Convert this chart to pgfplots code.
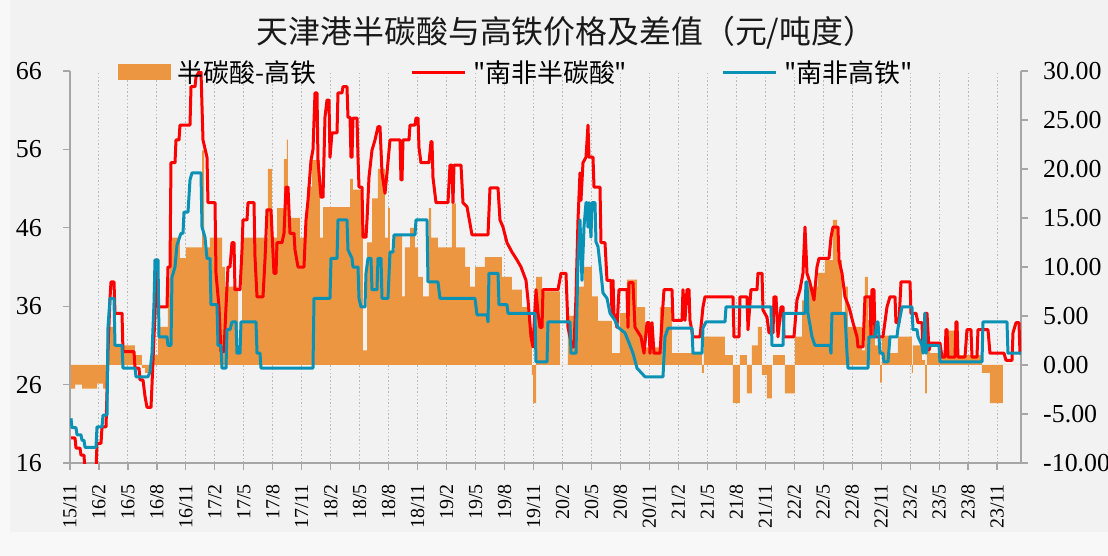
\documentclass[border=0pt]{standalone}
\usepackage{pgfplots}
\pgfplotsset{compat=1.18}
\usepackage{fontspec}
\setmainfont{Liberation Serif}
\newfontfamily\cjk{Noto Sans CJK SC}
\definecolor{barorange}{RGB}{236,150,66}
\definecolor{lred}{RGB}{255,0,0}
\definecolor{lblue}{RGB}{10,146,182}
\definecolor{panelbg}{RGB}{242,242,242}
\definecolor{outerbg}{RGB}{248,248,248}
\definecolor{axgray}{RGB}{166,166,166}
\definecolor{gridgray}{RGB}{185,185,185}
\begin{document}
\begin{tikzpicture}
\fill[outerbg] (0,0) rectangle (1108bp,556bp);
\fill[panelbg] (10bp,24bp) rectangle (1108bp,556bp);
\useasboundingbox (0,0) rectangle (1108bp,556bp);
\node[font=\cjk\fontsize{32}{38}\selectfont, text=black!90] at (566bp,523bp) {天津港半碳酸与高铁价格及差值（元/吨度）};
% ---------- difference (bars), right axis ----------
\begin{axis}[
  at={(70bp,93bp)}, anchor=south west,
  width=951bp, height=392bp, scale only axis,
  xmin=0, xmax=98.48, ymin=-10, ymax=30,
  x filter/.expression={(x-70)/9.657},
  axis x line*=bottom, axis y line*=right,
  xtick={0,3,...,96}, xticklabels={},
  xmajorgrids,
  grid style={gridgray, line width=1bp, dash pattern=on 1.5bp off 2.2bp},
  ytick={-10,-5,...,30},
  yticklabels={-10.00,-5.00,0.00,5.00,10.00,15.00,20.00,25.00,30.00},
  yticklabel style={font=\fontsize{26}{30}\selectfont, anchor=west, inner sep=0pt},
  yticklabel shift=15bp,
  tick align=outside, major tick length=7bp,
  tick style={axgray, line width=1.2bp},
  axis line style={axgray, line width=1.5bp},
]
\addplot[const plot, fill=barorange, draw=none] table {
px v
70 -2.4
75 -2.0
82 -2.4
97 -1.9
103 -2.4
107 3.9
116 2.0
135 1.0
142 -0.3
145 -0.8
153 1.0
158 3.9
168 8.9
170 13
180 10.9
186 12
202 21.9
204 12
210 13
222 10
225 8
238 2
242 13
268 20
272 13
277 16
284 21
287 23
288 15
300 13
307 18.2
312 20.9
320 13
323 16.1
350 19
353 17.9
363 1.5
367 12.5
372 17
378 20
385 13
388 16
390 11.7
395 13.3
402 7
405 12
410 14
415 12
418 9
423 7
429 16
431 13
438 12
452 16.5
456 12
465 10
470 8
475 10
485 11
502 9
512 7.7
522 5.9
529 3.9
532 -1
533 -3.9
536 9
542 7.5
560 0
568 5
578 8
584 10
592 7
598 4.5
612 1.2
620 5.3
627 8.7
637 5.9
645 1.8
660 5.9
672 1.2
702 -0.8
704 2.9
725 1.0
733 -3.9
740 1.0
747 -2.9
752 2.0
758 3.9
762 -1.0
767 -3.4
772 0
773 1.0
785 -2.9
795 2.9
802 6.6
805 8
818 9.4
825 10.7
833 14.8
837 10.7
842 5.4
845 8
848 3.9
862 1.5
865 9
868 4.6
875 2
880 -1.8
882 3
890 1.2
898 2.9
912 -0.8
913 2.0
922 0.5
925 -2.9
927 1.4
930 1.2
945 3.5
955 1.0
982 -0.8
990 -3.9
1003 0
1021 0
} \closedcycle;
\end{axis}
% ---------- prices, left axis ----------
\begin{axis}[
  at={(70bp,93bp)}, anchor=south west,
  width=951bp, height=392bp, scale only axis,
  xmin=0, xmax=98.48, ymin=16, ymax=66,
  x filter/.expression={(x-70)/9.657},
  axis x line*=bottom, axis y line*=left,
  xtick={0,3,...,96},
  xticklabels={15/11,16/2,16/5,16/8,16/11,17/2,17/5,17/8,17/11,18/2,18/5,18/8,18/11,19/2,19/5,19/8,19/11,20/2,20/5,20/8,20/11,21/2,21/5,21/8,21/11,22/2,22/5,22/8,22/11,23/2,23/5,23/8,23/11},
  xticklabel style={font=\fontsize{20}{24}\selectfont, rotate=90, anchor=east, inner sep=0pt},
  xticklabel shift=14bp,
  ytick={16,26,...,66},
  yticklabels={16,26,36,46,56,66},
  yticklabel style={font=\fontsize{26}{30}\selectfont, anchor=east, inner sep=0pt},
  yticklabel shift=21bp,
  tick align=outside, major tick length=7bp,
  tick style={axgray, line width=1.2bp},
  axis line style={axgray, line width=1.5bp},
  legend columns=3,
  legend style={at={(0.0505,0.9974)}, anchor=west, draw=none, fill=none,
    font=\cjk\fontsize{26}{30}\selectfont, inner sep=0pt,
    nodes={inner sep=0pt},
    /tikz/every odd column/.append style={column sep=7bp},
    /tikz/every even column/.append style={column sep=94bp}},
]
\addlegendimage{legend image code/.code={\fill[barorange] (0bp,-7.5bp) rectangle (52bp,7.5bp);}}
\addlegendentry{半碳酸-高铁}
\addplot[lred, line width=3bp, line join=round,
  legend image code/.code={\draw[lred, line width=3bp] (0bp,0bp) -- (53bp,0bp);}] table {
px v
71 19.2
75 19.2
76 17.9
80 17.9
81 17.0
84 17.0
85 15.0
96 15.0
97 18.5
101 18.5
102 20.6
106 20.6
107 25
108 30.4
110 37
111 39.1
114 39.1
115 35.1
122 35.1
123 30.2
134 30.2
135 28.1
139 28.1
140 26.6
143 26.6
145 24.5
147 23.1
151 23.1
152 26
153 29.1
155 35
157 41.9
158 35.9
167 35.9
168 41
170 41
171 54.3
175 54.3
176 57.2
179 57.2
180 59.1
190 59.1
191 64
195 64
196 65.2
199 65.9
201 65.9
203 57.2
207 55
208 49.2
215 49.2
216 40.2
219 35.9
221 30.2
224 30.2
226 35.9
228 41
230 41
232 44.1
234 44.1
235 38.1
240 38.1
242 43.2
243 47
247 47
248 49.2
254 49.2
255 42.3
257 37.2
263 37.2
265 41.9
267 48.3
271 48.3
273 42.8
274 40.2
276 40.2
277 44.1
282 44.1
284 45.3
286 51.2
288 51.2
290 45.3
294 45.3
295 43.2
298 41
304 41
306 47
308 49.5
311 54.6
313 56
315 63.2
317 63.2
318 54.6
321 49.9
323 49.9
325 60.1
327 62.3
329 62.3
330 55
332 58.1
337 58.1
338 63.2
342 63.2
343 64
347 64
348 60.1
350 60.1
351 55
352 55
353 60
357 60
358 55
359 51.2
362 51.2
363 44.8
366 44.8
367 47
369 52.5
372 55.9
375 57.2
378 58.9
380 58.9
382 53
385 50.4
387 53
390 57.2
400 57.2
401 52.1
402 52.1
403 57.2
409 57.2
410 59.1
415 59.1
416 60
418 60
419 56.2
421 54.3
429 54.3
431 57
432 57
433 52.4
436 49.2
448 49.2
450 54
452 54
453 49.2
454 54
461 54
463 49.2
467 48.7
472 45.1
488 45.1
490 51.1
498 51.1
500 47
503 46.1
507 44.1
512 42.9
517 41.9
521 41
526 39.3
528 36.8
531 32.1
533 30.8
536 38.1
538 35.1
540 33.3
542 33.3
543 38.1
558 38.1
561 40.2
566 40.2
568 33.3
572 30.8
574 30.8
576 37.2
578 47
580 53
581 49.5
583 54.3
586 55
588 59.1
589 55
593 55
594 51.2
600 51.2
601 44.1
605 44.1
607 39.3
611 39.3
612 35.1
613 39.3
614 35.1
617 33.3
619 38.1
627 38.1
628 33.3
629 39
633 39
635 33.3
641 32.1
644 30
647 33.9
649 33.9
650 30
652 33.9
654 30
660 30
662 34.2
664 38.1
672 38.1
673 34.2
682 34.2
683 38.1
685 34.2
687 38.1
689 38.1
690 34.2
693 32.1
700 32.1
703 35.9
705 37.2
733 37.2
734 32.1
739 32.1
740 37.2
747 37.2
748 33
751 38.1
757 38.1
758 40.2
762 40.2
763 35.5
767 34.6
769 32.6
773 32.6
774 37.2
776 37.2
778 32.1
781 35.9
783 35.9
784 32.1
794 32.1
797 36.8
800 38.1
803 40.2
805 46.1
807 40.2
810 39
814 36.8
817 41
819 42.1
829 42.1
831 44.8
833 46.1
838 46.1
839 41.9
842 40.2
845 37.2
849 35.9
853 33.9
857 32.1
858 30.8
863 30.8
865 37.2
870 37.2
871 32.1
872 38.1
874 38.1
875 32.1
883 32.1
887 35.9
890 37.2
895 37.2
896 33.9
899 33.9
901 39.1
910 39.1
911 35.1
916 35.1
918 33.9
922 33.9
923 30.4
925 35.1
927 35.1
929 30.4
931 31.3
940 31.3
942 29.5
945 29.5
946 33
947 33
948 29.5
955 29.5
956 34
957 34
958 29.5
965 29.5
967 33
971 33
972 29.5
977 29.5
978 33
988 33
990 30
1004 30
1006 29.1
1012 29.1
1013 32.6
1016 33.9
1019 33.9
1020 30
1021 30
};
\addlegendentry{"南非半碳酸"}
\addplot[lblue, line width=3bp, line join=round,
  legend image code/.code={\draw[lblue, line width=3bp] (0bp,0bp) -- (53bp,0bp);}] table {
px v
71 21.7
72 20.5
76 20.5
77 19.6
81 19.6
82 18.9
84 18.9
85 18
96 18
97 20.6
102 20.6
103 22.1
107 22.1
108 33.3
110 37
114 37
115 31
122 31
123 28.1
135 28.1
136 27
148 27
150 27.6
152 30
154 36.4
155 41.9
158 41.9
159 32.1
167 32.1
168 31
171 31
172 39.7
175 41
177 43.8
181 45.3
183 45.3
184 48
188 48
190 52.1
192 53
201 53
202 46.1
205 44.8
207 42.1
210 42.1
211 36.2
217 36.2
218 31
221 31
222 28.1
226 28.1
227 33
230 33
232 34
236 34
237 30
240 30
241 34
256 34
257 30
260 30
261 28.1
313 28.1
314 37
330 37
331 42.1
337 42.1
338 47
347 47
348 43.2
352 42.1
353 41
358 41
359 37
361 35.9
365 35.9
366 40.2
368 42.1
371 42.1
372 38.1
377 38.1
378 42.1
381 42.1
382 37
388 37
390 42.9
393 42.9
394 45.1
415 45.1
416 47
427 47
428 39.1
438 39.1
440 37
475 37
477 34.9
487 34.9
488 34
489 40.2
498 40.2
499 36.2
507 36.2
508 35.1
535 35.1
536 28.9
547 28.9
548 34
570 34
571 30
576 30
577 35.9
578 41.9
580 47
582 39.3
584 46.1
586 49.2
587 49.2
588 46.1
589 49.2
591 44.8
592 49.2
595 49.2
596 44.2
598 43.6
601 40.2
603 37.7
607 37
610 35.1
615 34.2
618 33.3
625 32.6
630 31
633 30
637 28.1
645 27
663 27
665 32.1
668 33.2
692 33.2
693 30
702 30
703 33.2
706 34
725 34
726 35.9
771 35.9
772 31
783 31
784 35.1
805 35.1
806 39.1
807 39.1
808 35.1
812 32.1
815 31
830 31
831 30
832 35.1
845 35.1
847 30
848 28.1
868 28.1
869 32.1
875 32.1
877 34
878 34
880 30
883 30
884 28.9
888 28.9
890 32.1
897 32.1
898 33.2
902 35.9
912 35.9
913 33
917 33
918 32.1
922 31
923 30
925 35.1
926 30
928 31
939 31
940 28.9
982 28.9
983 34
1007 34
1008 30
1021 30
};
\addlegendentry{"南非高铁"}
\end{axis}
\end{tikzpicture}
\end{document}
